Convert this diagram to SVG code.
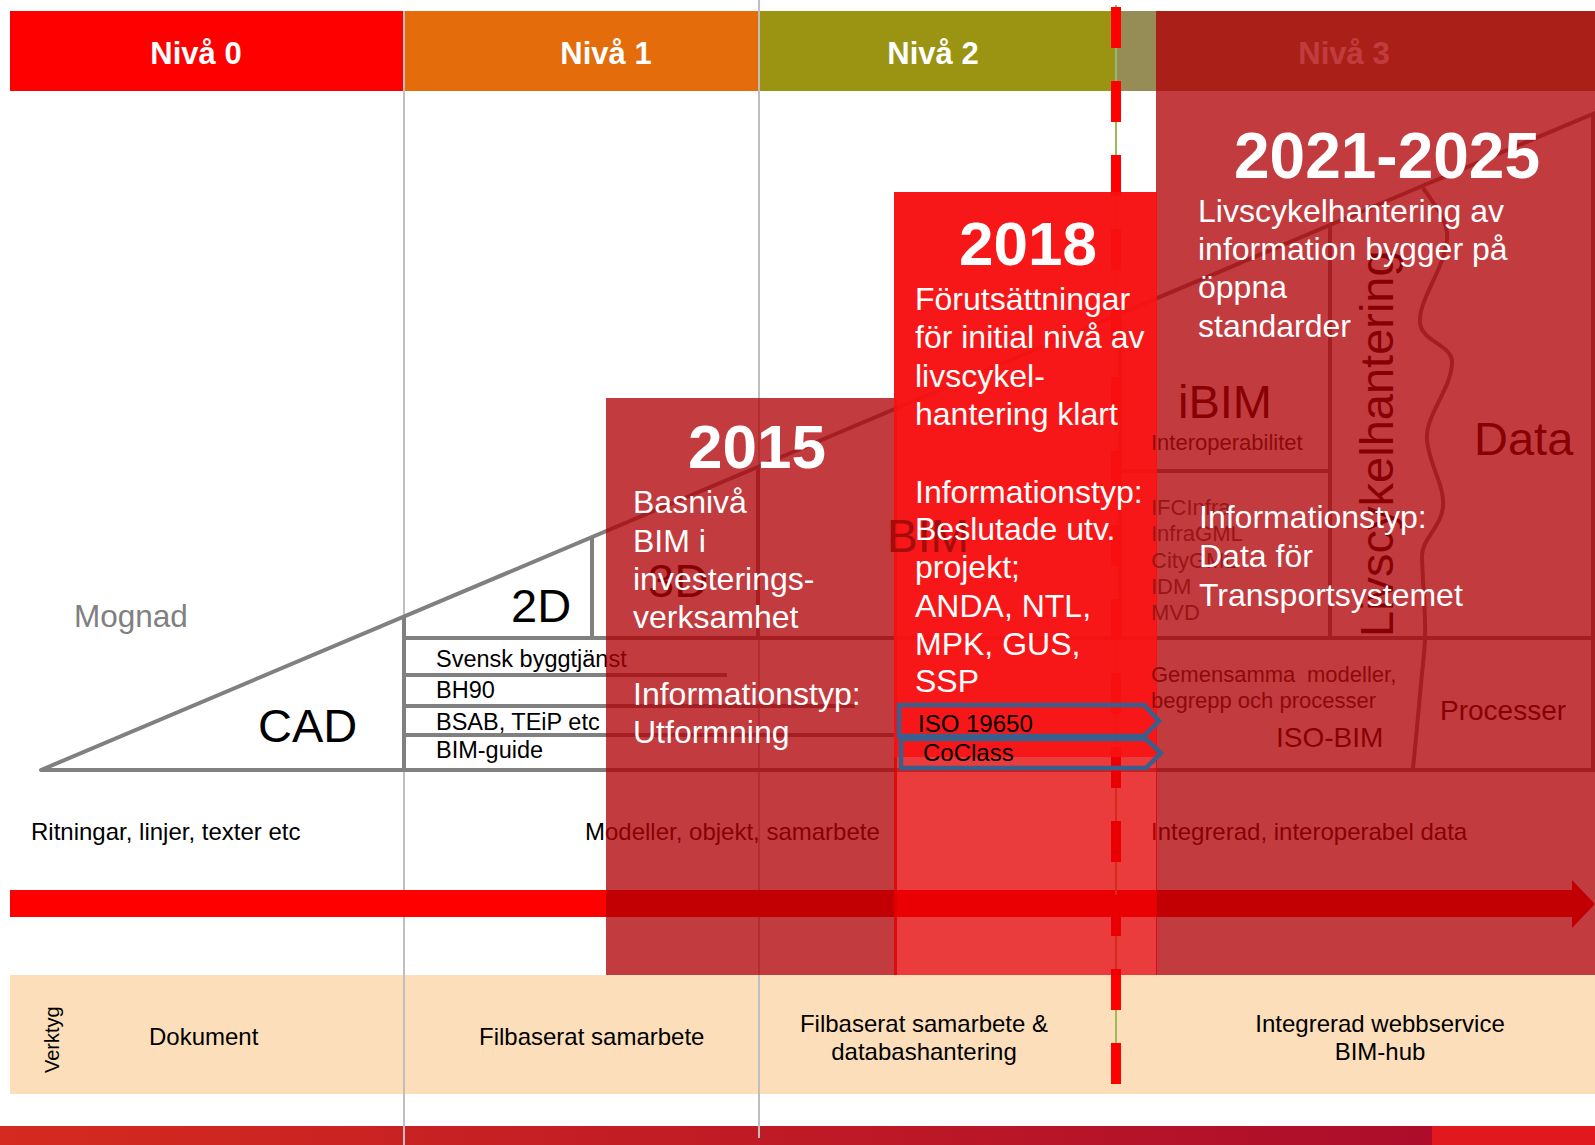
<svg xmlns="http://www.w3.org/2000/svg" width="1595" height="1145" viewBox="0 0 1595 1145">
<defs>
<style>
text{font-family:"Liberation Sans",Arial,sans-serif}
.hd{font-size:31px;font-weight:bold;fill:#fff;text-anchor:middle}
.gl{stroke:#BFBFBF;stroke-width:2;fill:none}
.tri{stroke:#808080;stroke-width:4;fill:none}
.ov{fill:rgb(175,0,5);fill-opacity:.77}
.yr{font-size:62px;font-weight:bold;fill:#fff;text-anchor:middle}
.wt{font-size:32px;fill:#fff}
.cap{font-size:24px;fill:#000}
.lab{font-size:47px;fill:#000}
.sm{font-size:22px;fill:#333}
.row{font-size:23.5px;fill:#000}
.pent{fill:none;stroke:#3B5F8C;stroke-width:4.5;stroke-linejoin:miter}
</style>
<linearGradient id="bb" x1="0" y1="0" x2="1432" y2="0" gradientUnits="userSpaceOnUse">
<stop offset="0" stop-color="#D42A1F"/><stop offset="1" stop-color="#AD0D2B"/>
</linearGradient>
</defs>
<rect width="1595" height="1145" fill="#fff"/>

<g id="header">
<rect x="10" y="11" width="394" height="80" fill="#FF0000"/>
<rect x="404" y="11" width="354" height="80" fill="#E46C0A"/>
<rect x="758" y="11" width="356" height="80" fill="#9A9412"/>
<rect x="1114" y="11" width="481" height="80" fill="#968C56"/>
<text class="hd" x="196" y="64">Nivå 0</text>
<text class="hd" x="606" y="64">Nivå 1</text>
<text class="hd" x="933" y="64">Nivå 2</text>
<text class="hd" x="1344" y="64">Nivå 3</text>
</g>

<g id="tools">
<rect x="10" y="975" width="1585" height="119" fill="#FCDFBA"/>
<text transform="translate(59,1073) rotate(-90)" style="font-size:20px">Verktyg</text>
<text class="cap" x="149" y="1045">Dokument</text>
<text class="cap" x="479" y="1045">Filbaserat samarbete</text>
<text class="cap" x="924" y="1032" text-anchor="middle">Filbaserat samarbete &amp;</text>
<text class="cap" x="924" y="1060" text-anchor="middle">databashantering</text>
<text class="cap" x="1380" y="1032" text-anchor="middle">Integrerad webbservice</text>
<text class="cap" x="1380" y="1060" text-anchor="middle">BIM-hub</text>
</g>

<g id="footer-bar">
<rect x="0" y="1126" width="1432" height="19" fill="url(#bb)"/>
<rect x="1432" y="1126" width="163" height="19" fill="#E2181F"/>
</g>

<g id="level-dividers">
<line class="gl" x1="404" y1="11" x2="404" y2="1145"/>
<line class="gl" x1="759" y1="0" x2="759" y2="1138"/>
</g>

<g id="maturity">
<path class="tri" d="M41,770 L1595,113" stroke-width="4.5" stroke-linecap="round"/>
<path class="tri" d="M41,770 H1595"/>
<path class="tri" d="M404,617 V770"/>
<path class="tri" d="M592,537 V638"/>
<path class="tri" d="M758,467 V638"/>
<path class="tri" d="M1120,314 V638"/>
<path class="tri" d="M1330,225 V638"/>
<path class="tri" d="M1593,113 V770"/>
<path class="tri" d="M1120,471 H1330"/>
<path class="tri" d="M404,638 H1595"/>
<path class="tri" d="M404,675 H727"/>
<path class="tri" d="M404,706 H855"/>
<path class="tri" d="M404,735 H895"/>
<path class="tri" stroke-width="3" d="M1423,188 C1435,205 1449,222 1447,240 C1444,270 1418,300 1420,323 C1422,342 1453,345 1452,363 C1451,390 1425,415 1427,440 C1429,465 1445,485 1443,507 C1441,527 1421,540 1422,557 C1423,590 1426,615 1425,640 C1424,655 1423,665 1422,673 C1419,705 1416,740 1413,768"/>
<text x="74" y="627" style="font-size:31.5px;fill:#808080">Mognad</text>
<text class="lab" x="258" y="742">CAD</text>
<text class="lab" x="511" y="622">2D</text>
<text class="lab" x="648" y="597">3D</text>
<text class="row" x="436" y="667">Svensk byggtjänst</text>
<text class="row" x="436" y="698">BH90</text>
<text class="row" x="436" y="730">BSAB, TEiP etc</text>
<text class="row" x="436" y="758">BIM-guide</text>
<text class="lab" x="1178" y="418">iBIM</text>
<text class="lab" x="1474" y="455">Data</text>
<text transform="translate(1393,637) rotate(-90)" style="font-size:47px">Livscykelhantering</text>
<text x="1276" y="747" style="font-size:28px">ISO-BIM</text>
<text x="1440" y="720" style="font-size:28px">Processer</text>
</g>

<g id="captions">
<text class="cap" x="31" y="840">Ritningar, linjer, texter etc</text>
<text class="cap" x="585" y="840">Modeller, objekt, samarbete</text>
<text class="cap" x="1151" y="840">Integrerad, interoperabel data</text>
</g>

<g id="connectors">
<path id="progress-arrow" d="M10,890 H1572 V880 L1595,904 L1572,928 V917 H10 Z" fill="#FF0000"/>
<line x1="1116" y1="5" x2="1116" y2="1084" stroke="#9BBB59" stroke-width="2"/>
<line id="milestone-line" x1="1116" y1="7" x2="1116" y2="1084" stroke="#FF0000" stroke-width="10" stroke-dasharray="41 33"/>
</g>

<g id="box-2015">
<rect class="ov" x="606" y="398" width="291" height="577"/>
<text class="yr" x="757" y="468">2015</text>
<text class="wt" x="633" y="513">Basnivå</text>
<text class="wt" x="633" y="552">BIM i</text>
<text class="wt" x="633" y="590">investerings-</text>
<text class="wt" x="633" y="628">verksamhet</text>
<text class="wt" x="633" y="705">Informationstyp:</text>
<text class="wt" x="633" y="743">Utformning</text>
</g>

<g id="box-2021">
<rect class="ov" x="1156" y="11" width="439" height="964"/>
<text x="1387" y="178" style="font-size:64px;font-weight:bold;fill:#fff;text-anchor:middle">2021-2025</text>
<text class="wt" x="1198" y="222">Livscykelhantering av</text>
<text class="wt" x="1198" y="260">information bygger på</text>
<text class="wt" x="1198" y="298">öppna</text>
<text class="wt" x="1198" y="337">standarder</text>
</g>

<g id="box-2018">
<rect x="894" y="192" width="263" height="783" fill="rgb(228,0,3)" fill-opacity=".77"/>
<rect x="894" y="192" width="263" height="565" fill="rgb(250,18,18)" fill-opacity=".85"/>
<text x="887" y="552" style="font-size:46px;fill:#A50C0C">BIM</text>
<text class="yr" x="1028" y="265">2018</text>
<text class="wt" x="915" y="310">Förutsättningar</text>
<text class="wt" x="915" y="348">för initial nivå av</text>
<text class="wt" x="915" y="387">livscykel-</text>
<text class="wt" x="915" y="425">hantering klart</text>
<text class="wt" x="915" y="503">Informationstyp:</text>
<text class="wt" x="915" y="540">Beslutade utv.</text>
<text class="wt" x="915" y="578">projekt;</text>
<text class="wt" x="915" y="617">ANDA, NTL,</text>
<text class="wt" x="915" y="655">MPK, GUS,</text>
<text class="wt" x="915" y="692">SSP</text>
</g>

<g id="standards-list">
<text class="sm" x="1151" y="450" style="fill:#8E0A0A">Interoperabilitet</text>
<text class="sm" x="1151" y="515" style="fill:#981616">IFCInfra</text>
<text class="sm" x="1151" y="541" style="fill:#981616">InfraGML</text>
<text class="sm" x="1151" y="568" style="fill:#981616">CityGML</text>
<text class="sm" x="1151" y="594" style="fill:#981616">IDM</text>
<text class="sm" x="1151" y="620" style="fill:#981616">MVD</text>
<text class="sm" x="1151" y="682" style="fill:#8E0A0A">Gemensamma<tspan x="1307">modeller,</tspan></text>
<text class="sm" x="1151" y="708" style="fill:#8E0A0A">begrepp och processer</text>
</g>

<g id="box-2021-info">
<text class="wt" x="1199" y="528">Informationstyp:</text>
<text class="wt" x="1199" y="567">Data för</text>
<text class="wt" x="1199" y="606">Transportsystemet</text>
</g>

<g id="iso-19650">
<path class="pent" d="M899,705 H1144 L1159,721 L1144,736 H899 Z"/>
<text x="918" y="732" style="font-size:24px">ISO 19650</text>
</g>
<g id="coclass">
<path class="pent" d="M901,739 H1146 L1161,753 L1146,768 H901 Z"/>
<text x="923" y="761" style="font-size:24px">CoClass</text>
</g>
</svg>
